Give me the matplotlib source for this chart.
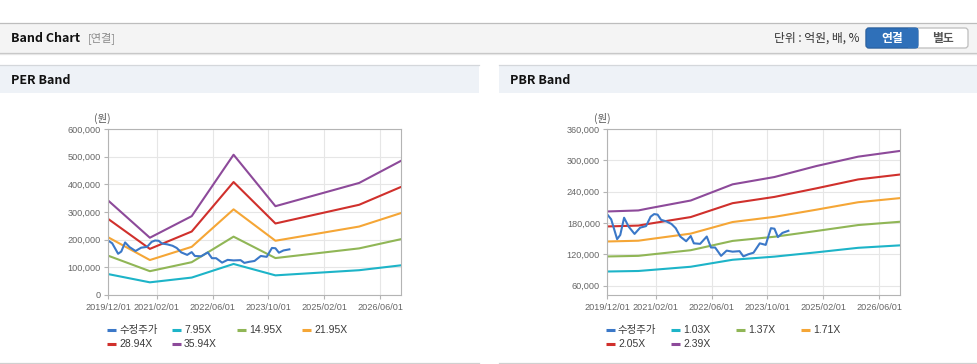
import matplotlib
matplotlib.use('Agg')
import matplotlib.pyplot as plt
from matplotlib.patches import Rectangle, FancyBboxPatch
from matplotlib.ticker import FuncFormatter

plt.rcParams['font.family'] = ['Liberation Sans', 'Noto Sans CJK KR', 'DejaVu Sans']

W, H = 978, 364

# ---------------- data ----------------
x_tick_months = [0, 14, 30, 46, 62, 78]
x_tick_labels = ['2019/12/01', '2021/02/01', '2022/06/01', '2023/10/01', '2025/02/01', '2026/06/01']
x_max_month = 84

price_label = '수정주가'
price_months = [0, 1.2, 2.9, 3.8, 4.9, 6.2, 7.9, 9.5, 11.2, 12.5, 13.5, 14.5, 15.5, 17, 18.5,
                19.7, 21, 22.7, 24, 24.9, 26.7, 28.6, 29.8, 31, 32.7, 34.3, 36, 38, 39.1,
                40.5, 42, 43.8, 45.5, 47, 48, 49, 50.3, 52]
price_values = [197000, 187000, 149000, 157000, 190000, 173000, 159000, 171000, 174000, 192000,
                197000, 196000, 186000, 183000, 178000, 170000, 154000, 145000, 155000, 141000,
                140000, 154000, 133000, 133000, 117000, 127000, 125000, 126000, 116000, 120000,
                123000, 141000, 138000, 170000, 169000, 153000, 161000, 165000]

per_months = [0, 12, 24, 36, 48, 60, 72, 84]
per_labels = ['7.95X', '14.95X', '21.95X', '28.94X', '35.94X']
per_795 = [75700, 45800, 63000, 112200, 71000, 80300, 89600, 107300]
per_1495 = [142300, 86100, 118600, 210900, 133500, 151000, 168500, 201800]
per_2195 = [208900, 126400, 174100, 309600, 196100, 221700, 247400, 296200]
per_2894 = [275400, 166700, 229500, 408300, 258500, 292300, 326100, 390600]
per_3594 = [342000, 207000, 285000, 507000, 321000, 363000, 405000, 485000]
per_ticks = [0, 100000, 200000, 300000, 400000, 500000, 600000]

pbr_months = [0, 9, 12, 24, 36, 48, 60, 72, 84]
pbr_labels = ['1.03X', '1.37X', '1.71X', '2.05X', '2.39X']
pbr_103 = [87000, 88000, 89600, 96100, 109500, 115500, 123700, 132400, 137100]
pbr_137 = [115800, 117000, 119200, 127800, 145600, 153600, 164600, 176000, 182300]
pbr_171 = [144500, 146000, 148800, 159600, 181800, 191700, 205400, 219700, 227600]
pbr_205 = [173300, 175000, 178400, 191300, 217900, 229900, 246300, 263400, 272800]
pbr_239 = [202000, 204000, 208000, 223000, 254000, 268000, 289000, 307000, 318000]
pbr_ticks = [60000, 120000, 180000, 240000, 300000, 360000]
pbr_ylim = (42000, 360000)

price_color = '#3b78c8'
band_colors = ['#1db4c8', '#90b656', '#f5a636', '#d0302c', '#8d4a9a']

# ---------------- figure ----------------
fig = plt.figure(figsize=(W / 100, H / 100), dpi=100)
fig.patch.set_facecolor('white')

bg = fig.add_axes([0, 0, 1, 1], zorder=0)
bg.set_xlim(0, W)
bg.set_ylim(H, 0)
bg.axis('off')

# top header
bg.add_patch(Rectangle((0, 22.5), W, 30.5, fc='#f4f4f4', ec='none'))
bg.plot([0, W], [22.5, 22.5], color='#bdbdbd', lw=0.9)
bg.plot([0, W], [53.2, 53.2], color='#c4c4c4', lw=0.9)
bg.plot([0, W], [54.3, 54.3], color='#e6e6e6', lw=0.9)
bg.text(11, 38, 'Band Chart', fontsize=9, fontweight='bold', color='#111111',
        va='center', ha='left', family=['Noto Sans CJK KR'])
bg.text(88, 38.5, '[연결]', fontsize=8, color='#8a8a8a', va='center', ha='left',
        family=['Noto Sans CJK KR'])
bg.text(859, 38.5, '단위 : 억원, 배, %', fontsize=8.5, color='#333333', va='center', ha='right',
        family=['Noto Sans CJK KR'])
# buttons
bg.add_patch(FancyBboxPatch((866, 28), 102, 20, boxstyle='round,pad=0,rounding_size=3',
                            fc='white', ec='#bdbdbd', lw=0.9))
bg.add_patch(FancyBboxPatch((866, 28), 52, 20, boxstyle='round,pad=0,rounding_size=3',
                            fc='#2f70b9', ec='#2a63a5', lw=0.9))
bg.add_patch(Rectangle((908, 28), 10, 20, fc='#2f70b9', ec='none'))
bg.text(892, 38.5, '연결', fontsize=8.5, fontweight='bold', color='white', va='center', ha='center',
        family=['Noto Sans CJK KR'])
bg.text(943, 38.5, '별도', fontsize=8.5, fontweight='bold', color='#555555', va='center', ha='center',
        family=['Noto Sans CJK KR'])

# panel headers
for x0, title in [(0, 'PER Band'), (499, 'PBR Band')]:
    bg.add_patch(Rectangle((x0, 64.5), 479, 28.5, fc='#eef2f7', ec='none'))
    bg.plot([x0, x0 + 479], [64.5, 64.5], color='#d4d7db', lw=0.9)
    bg.plot([x0, x0 + 479], [362.5, 362.5], color='#d0d0d0', lw=0.9)
    bg.text(x0 + 11, 80, title, fontsize=9, fontweight='bold', color='#111111',
            va='center', ha='left', family=['Noto Sans CJK KR'])


def px_axes(l, t, r, b):
    return fig.add_axes([l / W, 1 - b / H, (r - l) / W, (b - t) / H], zorder=2)


def style(ax, ticks, ylim):
    ax.set_facecolor('white')
    for s in ax.spines.values():
        s.set_color('#b4b4b4')
        s.set_linewidth(0.8)
    ax.set_xlim(0, x_max_month)
    ax.set_ylim(*ylim)
    ax.set_xticks(x_tick_months)
    ax.set_xticklabels(x_tick_labels)
    ax.set_yticks(ticks)
    ax.yaxis.set_major_formatter(FuncFormatter(lambda v, p: f'{v:,.0f}'))
    ax.grid(True, color='#e6e6e6', lw=0.8)
    ax.set_axisbelow(True)
    ax.tick_params(axis='both', labelsize=6.6, labelcolor='#666666', color='#b4b4b4',
                   length=3, width=0.8)
    ax.tick_params(axis='x', pad=3)
    ax.tick_params(axis='y', pad=2)


def draw_panel(ax, months, bands, labels, ticks, ylim, unit_x, legend_x):
    style(ax, ticks, ylim)
    for vals, c in zip(bands, band_colors):
        ax.plot(months, vals, color=c, lw=1.5, solid_joinstyle='round')
    ax.plot(price_months, price_values, color=price_color, lw=1.5, solid_joinstyle='round')
    bg.text(unit_x, 118, '(원)', fontsize=7.5, color='#555555', ha='center', va='center',
            family=['Noto Sans CJK KR'])
    names = [price_label] + labels
    colors = [price_color] + band_colors
    for i, (n, c) in enumerate(zip(names, colors)):
        row, col = divmod(i, 4)
        x = legend_x + col * 65
        y = 330 + row * 14
        bg.plot([x, x + 9], [y, y], color=c, lw=2.2, solid_capstyle='butt')
        bg.text(x + 12, y, n, fontsize=7.5, color='#3a3a3a', va='center', ha='left')


ax1 = px_axes(108, 129, 401, 295)
draw_panel(ax1, per_months, [per_795, per_1495, per_2195, per_2894, per_3594], per_labels,
           per_ticks, (0, 600000), 102.5, 107)

ax2 = px_axes(607, 129, 900, 295)
draw_panel(ax2, pbr_months, [pbr_103, pbr_137, pbr_171, pbr_205, pbr_239], pbr_labels,
           pbr_ticks, pbr_ylim, 602, 606)

fig.savefig('out.png', dpi=100, facecolor='white')
